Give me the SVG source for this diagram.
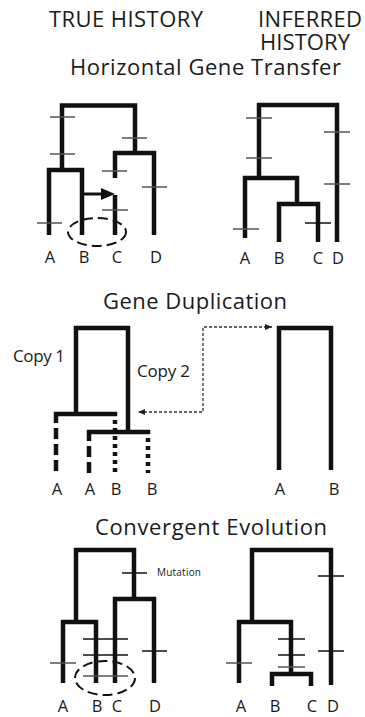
<svg xmlns="http://www.w3.org/2000/svg" width="365" height="717" viewBox="0 0 365 717">
<style>
.t{font-family:"Open Sans","Liberation Sans",sans-serif;font-size:22px;fill:#1a1a1a}
.l{font-family:"Open Sans","Liberation Sans",sans-serif;font-size:16.5px;fill:#1a1a1a;text-anchor:middle}
.c{font-family:"Open Sans","Liberation Sans",sans-serif;font-size:17px;fill:#1a1a1a}
.m{font-family:"Open Sans","Liberation Sans",sans-serif;font-size:10px;fill:#1a1a1a}
.br{fill:none;stroke:#111;stroke-width:4.5;stroke-linejoin:miter;stroke-linecap:butt}
.tk{stroke:#555;stroke-width:1.5}
.tkb{stroke:#111;stroke-width:1.5}
.dash{fill:none;stroke:#111;stroke-width:4.5;stroke-dasharray:11 5}
.dot{fill:none;stroke:#111;stroke-width:4.5;stroke-dasharray:4 4}
.ell{fill:none;stroke:#111;stroke-width:2;stroke-dasharray:10 5}
.dl{fill:none;stroke:#333;stroke-width:1.3;stroke-dasharray:3 2}
</style>
<defs>
<marker id="big" markerUnits="userSpaceOnUse" markerWidth="14" markerHeight="12" refX="0" refY="6" orient="auto"><path d="M0,0 L14,6 L0,12 z" fill="#111"/></marker>
<marker id="sm" markerUnits="userSpaceOnUse" markerWidth="7" markerHeight="6" refX="7" refY="3" orient="auto-start-reverse"><path d="M0,0 L7,3 L0,6 z" fill="#222"/></marker>
</defs>

<g id="titles">
<text class="t" x="49" y="27" textLength="154">TRUE HISTORY</text>
<text class="t" x="258" y="27" textLength="104">INFERRED</text>
<text class="t" x="260" y="50" textLength="90">HISTORY</text>
<text class="t" x="70" y="75" textLength="271">Horizontal Gene Transfer</text>
<text class="t" x="103" y="309" textLength="184">Gene Duplication</text>
<text class="t" x="95" y="535" textLength="232">Convergent Evolution</text>
</g>

<g id="hgt-true">
<path class="br" d="M62 170 V105.5 H135 V153"/>
<path class="br" d="M49 235 V170 H82 V235"/>
<path class="br" d="M115 178 V153 H154 V235"/>
<path class="br" d="M115 195 V235"/>
<line class="tk" x1="50" y1="117" x2="75" y2="117"/>
<line class="tk" x1="50" y1="154" x2="75" y2="154"/>
<line class="tk" x1="122" y1="138" x2="147" y2="138"/>
<line class="tk" x1="102" y1="171" x2="127" y2="171"/>
<line class="tk" x1="142" y1="187" x2="167" y2="187"/>
<line class="tk" x1="102" y1="210" x2="128" y2="210"/>
<line class="tk" x1="37" y1="223" x2="62" y2="223"/>
<ellipse class="ell" cx="97" cy="232" rx="29" ry="14"/>
<text class="l" x="50" y="263">A</text>
<text class="l" x="84" y="263">B</text>
<text class="l" x="117" y="263">C</text>
<text class="l" x="156" y="263">D</text>
</g>

<g id="hgt-inferred">
<path class="br" d="M259 178 V105 H337 V242"/>
<path class="br" d="M245 238 V178 H297 V204"/>
<path class="br" d="M279 242 V204 H318 V242"/>
<line class="tk" x1="246" y1="118" x2="272" y2="118"/>
<line class="tk" x1="246" y1="158" x2="272" y2="158"/>
<line class="tk" x1="324" y1="132" x2="350" y2="132"/>
<line class="tk" x1="324" y1="184" x2="350" y2="184"/>
<line class="tkb" x1="305" y1="223" x2="331" y2="223"/>
<line class="tk" x1="233" y1="229" x2="259" y2="229"/>
<text class="l" x="245" y="264">A</text>
<text class="l" x="279" y="264">B</text>
<text class="l" x="318" y="264">C</text>
<text class="l" x="338" y="264">D</text>
</g>

<g id="gd-true">
<path class="br" d="M76 414 V328 H128 V432"/>
<path class="br" d="M54 414 H117"/>
<path class="br" d="M87 432 H150"/>
<path class="dash" d="M56 412 V473"/>
<path class="dash" d="M89 430 V473"/>
<path class="dot" d="M115 412 V473"/>
<path class="dot" d="M148 430 V473"/>
<text class="c" x="13" y="362" textLength="52">Copy 1</text>
<text class="c" x="137" y="377" textLength="53">Copy 2</text>
<text class="l" x="57" y="495">A</text>
<text class="l" x="90" y="495">A</text>
<text class="l" x="116" y="495">B</text>
<text class="l" x="152" y="495">B</text>
</g>

<g id="gd-inferred">
<path class="br" d="M279 470 V328 H331 V470"/>
<text class="l" x="280" y="495">A</text>
<text class="l" x="334" y="495">B</text>
</g>

<g id="ce-true">
<path class="br" d="M76 622 V550 H134 V599"/>
<path class="br" d="M63 683 V622 H96 V683"/>
<path class="br" d="M115 683 V599 H154 V683"/>
<line class="tkb" x1="122" y1="573" x2="147" y2="573"/>
<line class="tkb" x1="83" y1="639" x2="128" y2="639"/>
<line class="tkb" x1="83" y1="655" x2="128" y2="655"/>
<line class="tk" x1="83" y1="676" x2="128" y2="676"/>
<line class="tkb" x1="142" y1="651" x2="167" y2="651"/>
<line class="tk" x1="50" y1="663" x2="76" y2="663"/>
<ellipse class="ell" cx="105" cy="678" rx="30" ry="17"/>
<text class="m" x="157" y="576" textLength="44">Mutation</text>
<text class="l" x="63" y="712">A</text>
<text class="l" x="97" y="712">B</text>
<text class="l" x="117" y="712">C</text>
<text class="l" x="155" y="712">D</text>
</g>

<g id="ce-inferred">
<path class="br" d="M252 622 V550 H331 V685"/>
<path class="br" d="M239 683 V622 H291 V674"/>
<path class="br" d="M272 686 V674 H311 V686"/>
<line class="tkb" x1="318" y1="576" x2="344" y2="576"/>
<line class="tkb" x1="318" y1="651" x2="344" y2="651"/>
<line class="tkb" x1="278" y1="639" x2="305" y2="639"/>
<line class="tkb" x1="278" y1="655" x2="305" y2="655"/>
<line class="tk" x1="278" y1="667" x2="305" y2="667"/>
<line class="tk" x1="226" y1="663" x2="252" y2="663"/>
<text class="l" x="241" y="712">A</text>
<text class="l" x="275" y="712">B</text>
<text class="l" x="312" y="712">C</text>
<text class="l" x="333" y="712">D</text>
</g>

<g id="connectors">
<line x1="84" y1="194" x2="101" y2="194" stroke="#111" stroke-width="3" marker-end="url(#big)"/>
<path class="dl" d="M272 327 H203 V412 H138" marker-start="url(#sm)" marker-end="url(#sm)"/>
</g>
</svg>
